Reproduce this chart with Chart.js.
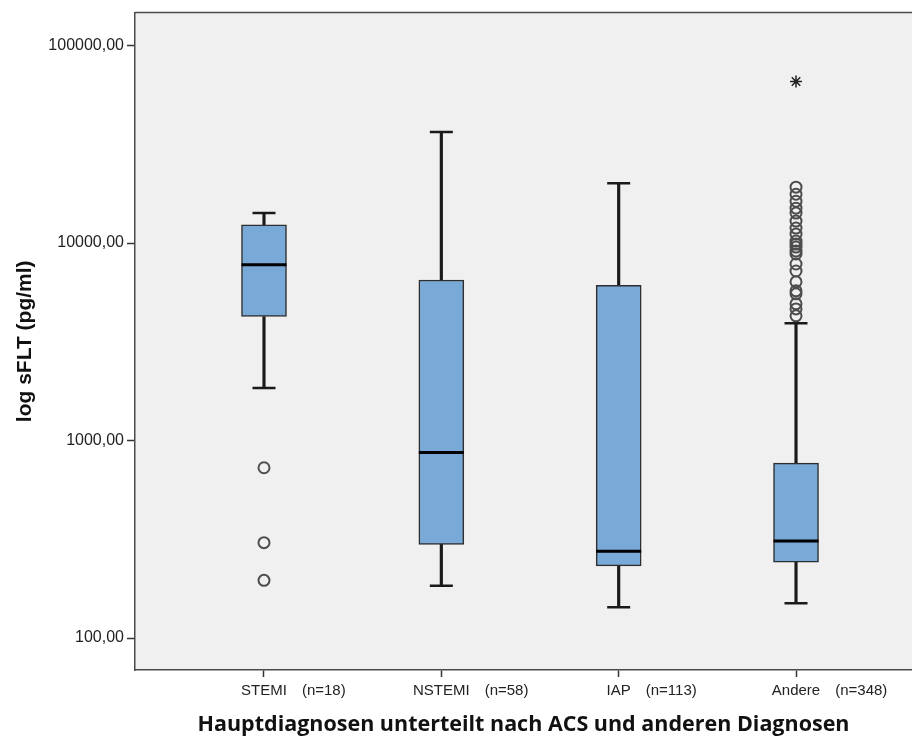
<!DOCTYPE html>
<html>
<head>
<meta charset="utf-8">
<title>sFLT nach Hauptdiagnose</title>
<script src="https://cdn.jsdelivr.net/npm/chart.js@4.4.1/dist/chart.umd.min.js"></script>
<style>
  html, body { margin: 0; padding: 0; background: #fff; }
  #wrap { width: 912px; height: 742px; }
</style>
</head>
<body>
<div id="wrap"><canvas id="boxChart"></canvas></div>
<script>
// Diagnosegruppen und Fallzahlen
const groups = ['STEMI', 'NSTEMI', 'IAP', 'Andere'];
const groupN = ['(n=18)', '(n=58)', '(n=113)', '(n=348)'];

// Boxplot-Kennwerte je Gruppe (sFLT in pg/ml)
const whiskerLow  = [1845, 184, 143, 150];
const q1          = [4245, 298, 232, 242];
const median      = [7770, 869, 275, 310];
const q3          = [12380, 6500, 6110, 768];
const whiskerHigh = [14190, 36500, 20100, 3930];

// Ausreisser (Kreise) und Extremwerte (Stern)
const outliersSTEMI = [728, 304, 196];
const outliersAndere = [19190, 17660, 16280, 15020, 14180, 12920, 11910, 11100, 10230, 9880,
  9540, 9110, 8800, 7830, 7220, 6360, 5730, 5530, 4920, 4640, 4280];
const extremesAndere = [65800];

const yTicks = [100, 1000, 10000, 100000];

const pos = groups.map((g, i) => i + 1);
const frameColor = '#4a4a4a';
const boxFill = '#79a9d6';

// hintergrund der plotflaeche + obere rahmenlinie
const plotFrame = {
  id: 'plotFrame',
  beforeDraw(chart) {
    const { ctx, chartArea: a } = chart;
    ctx.save();
    ctx.fillStyle = '#f0f0f0';
    ctx.fillRect(a.left, a.top, a.right - a.left, a.bottom - a.top);
    ctx.strokeStyle = frameColor;
    ctx.lineWidth = 1.5;
    ctx.beginPath();
    ctx.moveTo(a.left, a.top);
    ctx.lineTo(a.right, a.top);
    ctx.stroke();
    ctx.restore();
  }
};

// fallzahlen rechts neben den gruppennamen
const groupCounts = {
  id: 'groupCounts',
  afterDraw(chart) {
    const { ctx } = chart;
    const x = chart.scales.x;
    ctx.save();
    ctx.font = '15px "Liberation Sans"';
    ctx.fillStyle = '#222';
    ctx.textBaseline = 'middle';
    ctx.textAlign = 'left';
    groups.forEach((g, i) => {
      const px = x.getPixelForValue(pos[i]);
      const half = ctx.measureText(g).width / 2;
      ctx.fillText(groupN[i], px + half + 15, x.top + 21);
    });
    ctx.restore();
  }
};

const ctx = document.getElementById('boxChart').getContext('2d');
new Chart(ctx, {
  type: 'bar',
  data: {
    datasets: [
      {
        // Median
        type: 'line',
        data: pos.map((x, i) => ({ x, y: median[i] })),
        showLine: false,
        pointStyle: 'line',
        pointRadius: 22.5,
        pointBorderWidth: 3,
        pointBorderColor: '#000',
        order: 0
      },
      {
        // Whisker-Enden
        type: 'line',
        data: pos.map((x, i) => ({ x, y: whiskerHigh[i] }))
          .concat(pos.map((x, i) => ({ x, y: whiskerLow[i] }))),
        showLine: false,
        pointStyle: 'line',
        pointRadius: 11.5,
        pointBorderWidth: 2.5,
        pointBorderColor: '#1a1a1a',
        order: 1
      },
      {
        type: 'line',
        data: outliersSTEMI.map(y => ({ x: 1, y }))
          .concat(outliersAndere.map(y => ({ x: 4, y }))),
        showLine: false,
        pointStyle: 'circle',
        pointRadius: 5.5,
        pointBorderWidth: 2,
        pointBorderColor: '#4d4d4d',
        pointBackgroundColor: 'rgba(0,0,0,0)',
        order: 1
      },
      {
        type: 'line',
        data: extremesAndere.map(y => ({ x: 4, y })),
        showLine: false,
        pointStyle: 'star',
        pointRadius: 6,
        pointBorderWidth: 1.5,
        pointBorderColor: '#222',
        order: 1
      },
      {
        // Box Q1..Q3
        data: pos.map((x, i) => ({ x, y: [q1[i], q3[i]] })),
        backgroundColor: boxFill,
        borderColor: '#2e2e2e',
        borderWidth: 1.5,
        borderSkipped: false,
        barThickness: 45,
        grouped: false,
        order: 2
      },
      {
        // Whisker oben
        data: pos.map((x, i) => ({ x, y: [q3[i], whiskerHigh[i]] })),
        backgroundColor: '#1a1a1a',
        barThickness: 2.5,
        grouped: false,
        order: 3
      },
      {
        // Whisker unten
        data: pos.map((x, i) => ({ x, y: [whiskerLow[i], q1[i]] })),
        backgroundColor: '#1a1a1a',
        barThickness: 2.5,
        grouped: false,
        order: 3
      }
    ]
  },
  options: {
    responsive: true,
    maintainAspectRatio: false,
    animation: false,
    layout: { autoPadding: false, padding: { top: 11, right: 0, bottom: 0, left: 0 } },
    plugins: {
      legend: { display: false },
      tooltip: { enabled: false }
    },
    scales: {
      x: {
        type: 'linear',
        min: 0.2726,
        max: 4.654,
        offset: false,
        afterBuildTicks: scale => { scale.ticks = pos.map(v => ({ value: v })); },
        afterFit: scale => { scale.height = 72; },
        ticks: {
          callback: (value, index) => groups[index],
          font: { family: 'Liberation Sans', size: 15 },
          color: '#222',
          padding: 5,
          maxRotation: 0
        },
        grid: {
          display: true,
          offset: false,
          drawOnChartArea: false,
          tickLength: 7,
          tickWidth: 1.5,
          tickColor: '#333'
        },
        border: { display: true, color: frameColor, width: 1.5 },
        title: {
          display: true,
          text: 'Hauptdiagnosen unterteilt nach ACS und anderen Diagnosen',
          font: { family: 'Open Sans', size: 21.5, weight: 'bold' },
          color: '#111',
          padding: { top: 0, bottom: 4 }
        }
      },
      y: {
        type: 'logarithmic',
        min: 68.9,
        max: 146800,
        beginAtZero: false,
        afterBuildTicks: scale => { scale.ticks = yTicks.map(v => ({ value: v })); },
        afterFit: scale => { scale.width = 135; },
        ticks: {
          callback: value => value.toFixed(2).replace('.', ','),
          font: { family: 'Liberation Sans', size: 16 },
          color: '#222',
          padding: 3
        },
        grid: {
          display: true,
          drawOnChartArea: false,
          tickLength: 8,
          tickWidth: 1.5,
          tickColor: '#333'
        },
        border: { display: true, color: frameColor, width: 1.5 },
        title: {
          display: true,
          text: 'log sFLT (pg/ml)',
          font: { family: 'Liberation Sans', size: 21, weight: 'bold' },
          color: '#111',
          padding: { top: 13, bottom: 0 }
        }
      }
    }
  },
  plugins: [plotFrame, groupCounts]
});
</script>
</body>
</html>
